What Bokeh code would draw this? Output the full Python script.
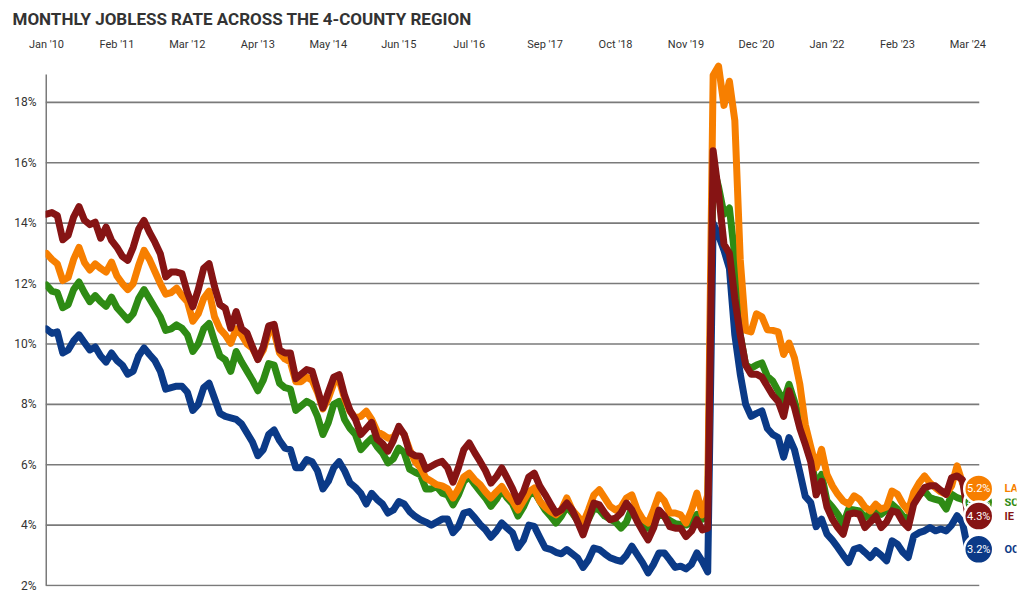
from bokeh.plotting import figure
from bokeh.models import ColumnDataSource, FixedTicker, Range1d
from bokeh.core.properties import value
from bokeh.embed import file_html
from bokeh.resources import INLINE

# Monthly, Jan 2010 .. Mar 2024 (171 months)
la = [
    13.0, 12.8, 12.65, 12.1, 12.2, 12.8, 13.2, 12.7, 12.45, 12.65, 12.5, 12.38,
    12.71, 12.25, 12.0, 11.8, 12.0, 12.6, 13.1, 12.8, 12.4, 12.0, 11.65, 11.7,
    11.85, 11.6, 11.4, 10.75, 11.0, 11.5, 11.75, 10.9, 10.5, 10.3, 10.02, 10.5,
    10.3, 10.0, 9.86, 9.5, 9.8, 10.4, 10.4, 9.7, 9.5, 9.4, 8.75, 8.75,
    8.9, 8.8, 8.4, 7.85, 8.2, 8.7, 8.8, 8.2, 7.77, 7.55, 7.6, 7.77,
    7.5, 7.1, 7.0, 6.88, 6.9, 7.2, 7.0, 6.5, 6.11, 5.9, 5.56, 5.45,
    5.34, 5.3, 5.2, 4.9, 5.2, 5.6, 5.72, 5.5, 5.34, 5.1, 4.9, 5.1,
    5.28, 5.0, 4.8, 4.5, 4.8, 5.1, 5.23, 4.79, 4.6, 4.45, 4.34, 4.5,
    4.9, 4.5, 4.3, 4.07, 4.5, 5.0, 5.17, 4.9, 4.62, 4.5, 4.6, 4.9,
    5.0, 4.5, 4.2, 4.07, 4.5, 5.0, 4.8, 4.4, 4.4, 4.34, 4.07, 4.5,
    5.06, 4.34, 5.0, 18.9, 19.2, 17.9, 18.7, 17.4, 12.8, 10.45, 10.4, 11.0,
    10.9, 10.47, 10.45, 10.4, 9.65, 10.03, 9.54, 8.66, 7.33, 6.6, 5.9, 6.51,
    5.68, 5.3, 5.02, 4.8, 4.69, 4.97, 4.86, 4.6, 4.47, 4.69, 4.53, 4.6,
    5.13, 5.02, 4.7, 4.47, 5.08, 5.4, 5.63, 5.4, 5.24, 5.1, 5.02, 5.3,
    5.96, 5.4, 5.2,
]
ie = [
    14.3, 14.35, 14.25, 13.45, 13.6, 14.2, 14.55, 14.1, 13.95, 14.03, 13.5, 13.87,
    13.43, 13.2, 12.9, 12.77, 13.2, 13.8, 14.09, 13.7, 13.37, 12.99, 12.22, 12.38,
    12.38, 12.33, 11.7, 11.23, 11.8, 12.5, 12.66, 11.9, 11.3, 11.18, 10.52, 11.07,
    10.5, 10.36, 9.9, 9.48, 9.9, 10.6, 10.65, 9.8, 9.7, 9.7, 8.85, 9.0,
    9.15, 9.1, 8.5, 7.88, 8.4, 8.9, 8.98, 8.3, 7.8, 7.5, 7.0, 7.2,
    7.4, 6.85, 6.7, 6.45, 6.8, 7.27, 7.0, 6.4, 6.3, 6.28, 5.85, 5.95,
    6.05, 6.11, 5.9, 5.42, 5.9, 6.5, 6.72, 6.4, 6.11, 5.8, 5.39, 5.6,
    5.89, 5.56, 5.2, 4.78, 5.1, 5.6, 5.72, 5.3, 5.01, 4.7, 4.4, 4.5,
    4.73, 4.5, 4.1, 3.68, 4.2, 4.73, 4.67, 4.4, 4.18, 4.23, 4.4, 4.73,
    4.5, 4.12, 3.8, 3.51, 3.9, 4.5, 4.3, 3.95, 3.9, 3.9, 3.62, 3.8,
    4.18, 3.84, 3.9, 16.4, 15.0, 13.3, 13.0, 11.5, 10.3, 9.3, 9.0, 9.0,
    8.9, 8.6, 8.3, 8.1, 7.6, 8.45, 7.9, 7.2, 6.67, 6.1, 5.0, 5.45,
    4.6, 4.2, 3.92, 3.7, 4.36, 4.4, 4.36, 3.92, 4.1, 4.3, 3.92, 4.1,
    4.47, 4.42, 4.1, 3.92, 4.69, 4.97, 5.24, 5.3, 5.3, 5.15, 5.02, 5.57,
    5.63, 5.5, 4.3,
]
sc = [
    11.95, 11.75, 11.7, 11.2, 11.3, 11.8, 12.05, 11.7, 11.4, 11.6, 11.4, 11.25,
    11.55, 11.2, 11.0, 10.8, 11.0, 11.5, 11.8, 11.5, 11.2, 10.9, 10.45, 10.5,
    10.63, 10.52, 10.3, 9.75, 10.0, 10.5, 10.68, 10.1, 9.6, 9.47, 9.09, 9.75,
    9.4, 9.1, 8.8, 8.45, 8.8, 9.35, 9.3, 8.7, 8.55, 8.5, 7.8, 7.95,
    8.1, 8.0, 7.6, 7.0, 7.4, 8.0, 8.1, 7.5, 7.2, 7.0, 6.5, 6.7,
    6.88, 6.6, 6.39, 6.06, 6.2, 6.55, 6.4, 5.85, 5.75, 5.67, 5.2, 5.2,
    5.28, 5.06, 5.0, 4.67, 5.0, 5.45, 5.6, 5.35, 5.12, 4.9, 4.62, 4.85,
    5.17, 4.9, 4.7, 4.3, 4.6, 5.0, 5.1, 4.8, 4.5, 4.3, 4.07, 4.3,
    4.62, 4.4, 4.15, 3.9, 4.2, 4.56, 4.5, 4.3, 4.2, 4.1, 3.9, 4.1,
    4.56, 4.3, 4.0, 3.9, 4.1, 4.34, 4.3, 4.15, 4.05, 4.02, 4.0, 4.1,
    4.35, 4.2, 4.3, 15.9, 15.2, 14.3, 14.5, 12.9, 10.3, 9.3, 9.2, 9.3,
    9.37, 8.93, 8.77, 8.44, 8.1, 8.66, 8.1, 7.5, 6.9, 6.23, 5.3, 5.68,
    4.8, 4.6, 4.36, 4.03, 4.53, 4.5, 4.47, 4.25, 4.4, 4.53, 4.36, 4.5,
    4.69, 4.53, 4.3, 4.14, 4.8, 5.0, 5.13, 4.91, 4.85, 4.8, 4.53, 5.02,
    4.91, 4.85, 4.75,
]
oc = [
    10.5, 10.35, 10.4, 9.7, 9.8, 10.1, 10.3, 10.05, 9.8, 9.9, 9.6, 9.4,
    9.7, 9.45, 9.3, 9.0, 9.1, 9.6, 9.87, 9.65, 9.45, 9.1, 8.5, 8.55,
    8.6, 8.6, 8.4, 7.8, 8.0, 8.55, 8.7, 8.2, 7.7, 7.6, 7.55, 7.5,
    7.35, 7.05, 6.75, 6.3, 6.5, 7.0, 7.15, 6.8, 6.55, 6.5, 5.9, 5.9,
    6.17, 6.1, 5.8, 5.2, 5.45, 5.9, 6.1, 5.8, 5.4, 5.25, 5.05, 4.7,
    5.05, 4.85, 4.7, 4.4, 4.5, 4.78, 4.7, 4.45, 4.29, 4.18, 4.1, 4.0,
    4.1, 4.2, 4.2, 3.75, 3.95, 4.4, 4.45, 4.25, 4.02, 3.85, 3.6, 3.8,
    4.07, 3.9, 3.74, 3.25, 3.5, 4.0, 3.96, 3.6, 3.25, 3.2, 3.1, 3.05,
    3.19, 3.05, 2.91, 2.6, 2.85, 3.24, 3.19, 3.05, 2.92, 2.85, 2.8, 3.0,
    3.3, 3.02, 2.75, 2.42, 2.7, 3.08, 3.08, 2.85, 2.6, 2.64, 2.55, 2.7,
    3.08, 2.8, 2.45, 14.0, 13.6, 13.1, 12.5, 10.3, 9.0, 8.0, 7.6, 7.7,
    7.78, 7.2, 7.0, 6.9, 6.25, 6.9, 6.5, 5.75, 4.95, 4.75, 3.95, 4.2,
    3.7, 3.5, 3.26, 3.0, 2.76, 3.2, 3.26, 3.1, 2.93, 3.15, 3.0, 2.82,
    3.48, 3.37, 3.1, 2.93, 3.64, 3.75, 3.81, 3.92, 3.81, 3.87, 3.81, 4.0,
    4.31, 4.09, 3.2,
]

x_ticks = [0, 13, 26, 39, 52, 65, 78, 92, 105, 118, 131, 144, 157, 170]
x_tick_labels = ["Jan '10", "Feb '11", "Mar '12", "Apr '13", "May '14", "Jun '15", "Jul '16",
                 "Sep '17", "Oct '18", "Nov '19", "Dec '20", "Jan '22", "Feb '23", "Mar '24"]
y_ticks = [2, 4, 6, 8, 10, 12, 14, 16, 18]

names = ["SC", "OC", "LA", "IE"]
values = {"LA": la, "IE": ie, "SC": sc, "OC": oc}
colors = {"LA": "#F77F00", "IE": "#861414", "SC": "#2E8B14", "OC": "#0B3A87"}

months = list(range(len(la)))
last = months[-1]

X0, X1 = -0.18, 178.97
Y0, Y1 = 1.967, 19.354
GRID_END = last + 2.1
AXIS_TOP = 18.92

p = figure(width=1020, height=600, x_range=Range1d(X0, X1), y_range=Range1d(Y0, Y1),
           x_axis_location="above", output_backend="svg", toolbar_location=None,
           min_border_left=45, min_border_right=4, min_border_top=59, min_border_bottom=14,
           title="MONTHLY JOBLESS RATE ACROSS THE 4-COUNTY REGION")
p.outline_line_color = None
p.xgrid.visible = False
p.ygrid.visible = False

p.title.text_font = "Roboto"
p.title.text_font_size = "17px"
p.title.text_font_style = "bold"
p.title.text_color = "#333333"
p.title.align = "left"
p.title.offset = -33
p.title.standoff = 12

for ax in (p.xaxis[0], p.yaxis[0]):
    ax.axis_line_color = None
    ax.major_tick_line_color = None
    ax.minor_tick_line_color = None
    ax.major_label_text_font = "Roboto"
    ax.major_label_text_color = "#333333"

p.xaxis.ticker = FixedTicker(ticks=x_ticks)
p.xaxis.major_label_overrides = {t: l for t, l in zip(x_ticks, x_tick_labels)}
p.xaxis.major_label_text_font_size = "11px"
p.xaxis.major_label_standoff = 5

p.yaxis.ticker = FixedTicker(ticks=y_ticks)
p.yaxis.major_label_overrides = {t: f"{t}%" for t in y_ticks}
p.yaxis.major_label_text_font_size = "12px"
p.yaxis.major_label_standoff = 3

# grid lines and left axis line
p.segment(x0=[X0] * len(y_ticks), x1=[GRID_END] * len(y_ticks), y0=y_ticks, y1=y_ticks,
          line_color="#7a7a7a", line_width=1.6)
p.segment(x0=[X0], x1=[X0], y0=[y_ticks[0]], y1=[AXIS_TOP], line_color="#7a7a7a", line_width=3)

for n in names:
    p.line(months, values[n], line_color=colors[n], line_width=7,
           line_join="round", line_cap="round")

# end markers: each circle with its value, drawn in order so later ones cover earlier ones
order = ["SC", "LA", "IE", "OC"]
for n in order:
    src = ColumnDataSource(dict(
        x=[last + 2.0], lx=[last + 6.2], y=[values[n][-1]],
        txt=[f"{values[n][-1]:.1f}%"], name=[n],
    ))
    p.scatter("x", "y", source=src, size=29, fill_color=colors[n], line_color="white",
              line_width=2.5)
    p.text("x", "y", text="txt", source=src, text_color="white", text_font=value("Roboto"),
           text_font_size="11px", text_align="center", text_baseline="middle")
    p.text("lx", "y", text="name", source=src, text_color=colors[n], text_font=value("Roboto"),
           text_font_size="11px", text_font_style="bold", text_align="left",
           text_baseline="middle", background_fill_color="white", padding=3)

open("out.html", "w").write(file_html(p, INLINE))
